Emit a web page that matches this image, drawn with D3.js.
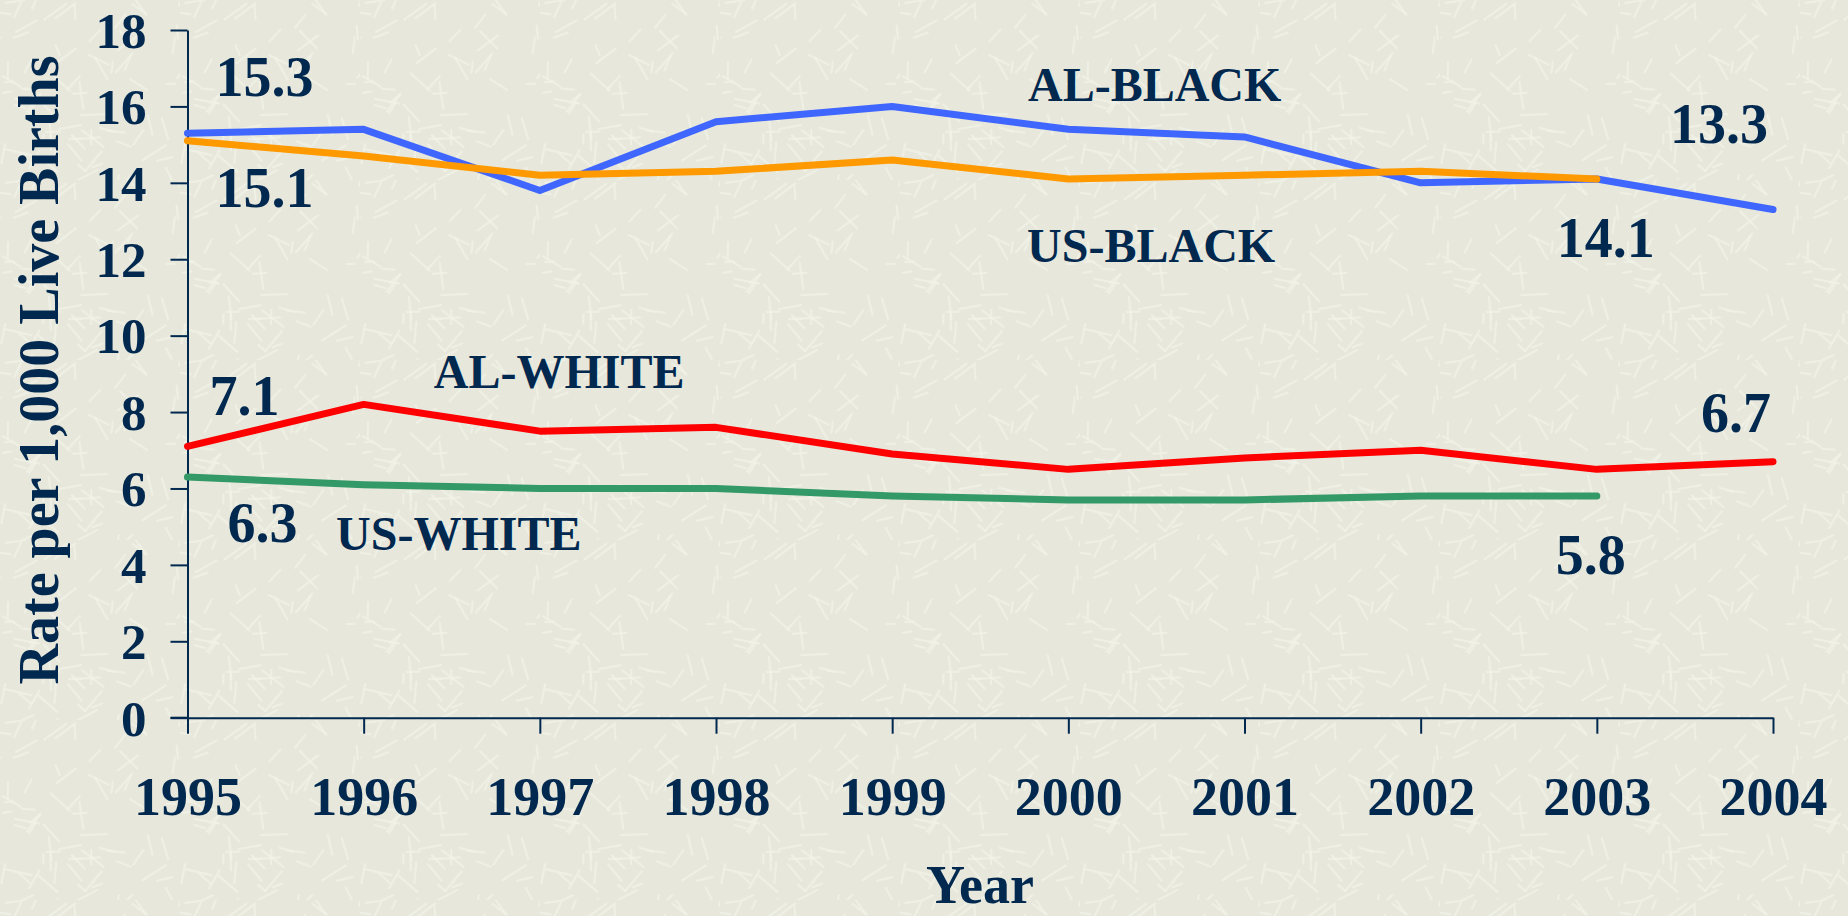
<!DOCTYPE html>
<html>
<head>
<meta charset="utf-8">
<script src="https://cdn.jsdelivr.net/npm/d3@7"></script>
<style>
  html, body { margin: 0; padding: 0; background: #e7e7db; }
  svg { display: block; }
  text { font-family: "Liberation Serif", "Times New Roman", serif; font-weight: bold; fill: #01284f; }
</style>
</head>
<body>
<script>
// ---- data ----
const years = [1995, 1996, 1997, 1998, 1999, 2000, 2001, 2002, 2003, 2004];
const alBlack = [15.3, 15.4, 13.8, 15.6, 16.0, 15.4, 15.2, 14.0, 14.1, 13.3];
const usBlack = [15.1, 14.7, 14.2, 14.3, 14.6, 14.1, 14.2, 14.3, 14.1, null];
const alWhite = [7.1, 8.2, 7.5, 7.6, 6.9, 6.5, 6.8, 7.0, 6.5, 6.7];
const usWhite = [6.3, 6.1, 6.0, 6.0, 5.8, 5.7, 5.7, 5.8, 5.8, null];
const seriesNames = ["AL-BLACK", "US-BLACK", "AL-WHITE", "US-WHITE"];
const seriesColors = ["#3f66ff", "#ff9900", "#ff0000", "#339966"];
const yTicks = [0, 2, 4, 6, 8, 10, 12, 14, 16, 18];
const yTitle = "Rate per 1,000 Live Births";
const xTitle = "Year";

const W = 1848, H = 916;
const svg = d3.select("body").append("svg").attr("width", W).attr("height", H);

// background texture (decorative)
const defs = svg.append("defs");
const pat = defs.append("pattern").attr("id", "tex").attr("patternUnits", "userSpaceOnUse")
  .attr("width", 180).attr("height", 180);
pat.append("rect").attr("width", 180).attr("height", 180).attr("fill", "#e7e7db");
function h(n) { const s = Math.sin(n * 12.9898) * 43758.5453; return s - Math.floor(s); }
for (let i = 0; i < 80; i++) {
  const x0 = h(i + 1) * 180, y0 = h(i + 101) * 180;
  const ang = h(i + 201) * Math.PI * 2, len = 6 + h(i + 301) * 22;
  pat.append("line").attr("x1", x0).attr("y1", y0)
    .attr("x2", x0 + Math.cos(ang) * len).attr("y2", y0 + Math.sin(ang) * len)
    .attr("stroke", "#f2f3e8").attr("stroke-width", 2.2).attr("stroke-linecap", "round").attr("opacity", 0.75);
}
svg.append("rect").attr("width", W).attr("height", H).attr("fill", "url(#tex)");

// scales
const x = d3.scaleLinear().domain([1995, 2004]).range([187.5, 1773]);
const y = d3.scaleLinear().domain([0, 18]).range([717.7, 30]);

// axes
const axisColor = "#01284f";
const gy = svg.append("g").attr("transform", `translate(${x(1995)},0)`)
  .call(d3.axisLeft(y).tickValues(yTicks).tickSize(17).tickPadding(24).tickSizeOuter(0));
gy.select(".domain").attr("stroke", axisColor).attr("stroke-width", 2);
gy.selectAll(".tick line").attr("stroke", axisColor).attr("stroke-width", 2);
gy.selectAll(".tick text").attr("font-size", 51).attr("font-family", null).attr("dy", "0.34em").attr("x", -41);

const gx = svg.append("g").attr("transform", `translate(0,${y(0)})`)
  .call(d3.axisBottom(x).tickValues(years).tickFormat(d3.format("d")).tickSize(16).tickSizeOuter(0));
gx.select(".domain").attr("stroke", axisColor).attr("stroke-width", 2);
gx.selectAll(".tick line").attr("stroke", axisColor).attr("stroke-width", 2);
gx.selectAll(".tick text").attr("font-size", 54).attr("font-family", null).attr("y", 97).attr("dy", 0);
// extend x axis line to the left like reference
svg.append("line").attr("x1", x(1995) - 17).attr("x2", x(1995)).attr("y1", y(0)).attr("y2", y(0))
  .attr("stroke", axisColor).attr("stroke-width", 2);

// lines
const allSeries = [alBlack, usBlack, alWhite, usWhite];
const line = d3.line().defined(d => d[1] != null).x(d => x(d[0])).y(d => y(d[1]));
allSeries.forEach((vals, i) => {
  svg.append("path").datum(years.map((yr, j) => [yr, vals[j]]))
    .attr("d", line).attr("fill", "none").attr("stroke", seriesColors[i])
    .attr("stroke-width", 7).attr("stroke-linejoin", "round").attr("stroke-linecap", "round");
});

// value labels (first / last values)
function lastIdx(vals) { let k = vals.length - 1; while (vals[k] == null) k--; return k; }
const fmt = d3.format(".1f");
function valLabel(vals, idx, dx, dy, anchor) {
  svg.append("text").attr("x", x(years[idx]) + dx).attr("y", y(vals[idx]) + dy)
    .attr("text-anchor", anchor).attr("font-size", 56).text(fmt(vals[idx]));
}
valLabel(alBlack, 0, 28, -37, "start");
valLabel(usBlack, 0, 28, 66, "start");
valLabel(alBlack, lastIdx(alBlack), -5, -67, "end");
valLabel(usBlack, lastIdx(usBlack), 9, 78, "middle");
valLabel(alWhite, 0, 22, -31, "start");
valLabel(usWhite, 0, 40, 65, "start");
valLabel(alWhite, lastIdx(alWhite), -2, -30, "end");
valLabel(usWhite, lastIdx(usWhite), -6, 78, "middle");

// series name labels
const namePos = [[2000.49, 16.14], [2000.47, 11.93], [1997.11, 8.63], [1996.54, 4.39]];
seriesNames.forEach((n, i) => {
  svg.append("text").attr("x", x(namePos[i][0])).attr("y", y(namePos[i][1]))
    .attr("text-anchor", "middle").attr("font-size", 48).text(n);
});

// titles
svg.append("text").attr("transform", "translate(58,370) rotate(-90)")
  .attr("text-anchor", "middle").attr("font-size", 56).text(yTitle);
svg.append("text").attr("x", 980).attr("y", 903).attr("text-anchor", "middle")
  .attr("font-size", 54).text(xTitle);
</script>
</body>
</html>
